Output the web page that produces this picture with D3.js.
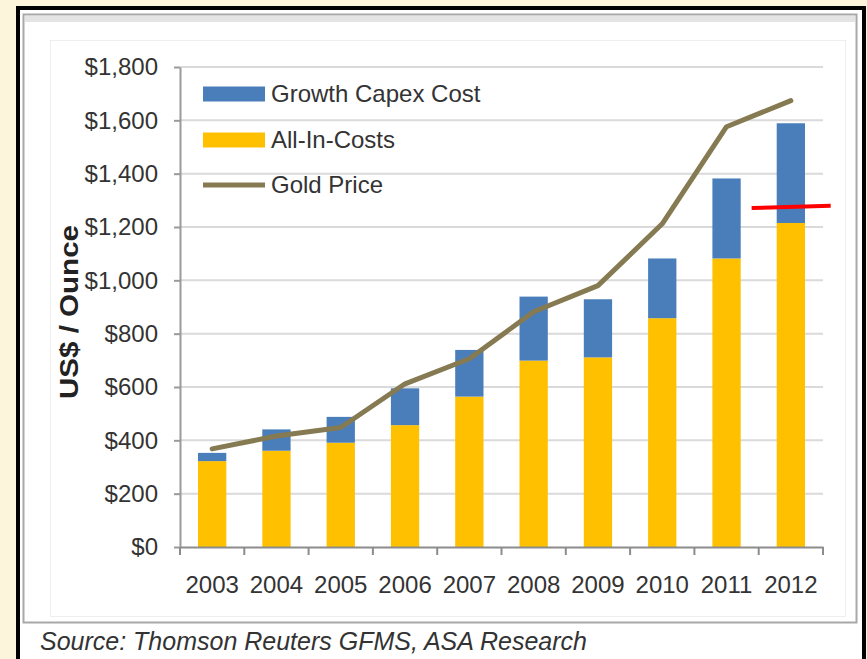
<!DOCTYPE html>
<html>
<head>
<meta charset="utf-8">
<script src="https://cdn.jsdelivr.net/npm/d3@7"></script>
<style>
  html, body { margin: 0; padding: 0; background: #fcf5dc; }
  svg { display: block; }
  text { font-family: "Liberation Sans", Arial, sans-serif; }
</style>
</head>
<body>
<svg id="chart" width="867" height="659"></svg>
<script>
// Gold mining cost structure vs. gold price, US$ per ounce
const years = ["2003", "2004", "2005", "2006", "2007", "2008", "2009", "2010", "2011", "2012"];
const allInCosts = [322, 361, 391, 457, 564, 699, 711, 858, 1082, 1215];
const growthCapex = [31, 80, 97, 138, 175, 240, 218, 224, 300, 374];
const goldPrice = [368, 416, 448, 612, 706, 882, 980, 1212, 1576, 1674];
const yTicks = [0, 200, 400, 600, 800, 1000, 1200, 1400, 1600, 1800];
const seriesNames = ["Growth Capex Cost", "All-In-Costs", "Gold Price"];
// highlighted level drawn across the last two years (position in category units, value)
const markerPoints = [{ pos: 8.39, value: 1271 }, { pos: 9.62, value: 1280 }];

const colors = { capex: "#4a7ebb", allIn: "#ffc000", gold: "#857a52" };

const svg = d3.select("#chart");
const W = 867, H = 659;

// page frame
svg.append("rect").attr("x", 0).attr("y", 0).attr("width", W).attr("height", H).attr("fill", "#fcf5dc");
svg.append("rect").attr("x", 18).attr("y", 8).attr("width", 846).attr("height", 700)
  .attr("fill", "#ffffff").attr("stroke", "#000").attr("stroke-width", 4);
svg.append("rect").attr("x", 23.5).attr("y", 14.5).attr("width", 833).attr("height", 608)
  .attr("fill", "none").attr("stroke", "#a8a8a8").attr("stroke-width", 2);
svg.append("rect").attr("x", 25).attr("y", 16).attr("width", 830).attr("height", 6)
  .attr("fill", "#e4e4e4");
svg.append("rect").attr("x", 50.5).attr("y", 40.5).attr("width", 795).attr("height", 576)
  .attr("fill", "none").attr("stroke", "#eeeeee").attr("stroke-width", 1);

const plot = { left: 180, right: 823, top: 67, bottom: 547 };

const x = d3.scaleBand().domain(years).range([plot.left, plot.right])
  .paddingInner(0.56).paddingOuter(0.28);
const step = x.step();
const xPos = d3.scaleLinear().domain([-0.5, years.length - 0.5]).range([plot.left, plot.right]);
const y = d3.scaleLinear().domain([0, 1800]).range([plot.bottom, plot.top]);

// gridlines
svg.append("g").selectAll("line").data(yTicks.filter(d => d > 0)).join("line")
  .attr("x1", plot.left).attr("x2", plot.right)
  .attr("y1", d => y(d)).attr("y2", d => y(d))
  .attr("stroke", "#dadada").attr("stroke-width", 2);

// stacked bars
const stackData = years.map((yr, i) => ({ year: yr, allIn: allInCosts[i], capex: growthCapex[i] }));
const stacked = d3.stack().keys(["allIn", "capex"])(stackData);
svg.append("g").selectAll("g").data(stacked).join("g")
  .attr("fill", d => colors[d.key])
  .selectAll("rect").data(d => d).join("rect")
  .attr("x", d => x(d.data.year))
  .attr("width", x.bandwidth())
  .attr("y", d => y(d[1]))
  .attr("height", d => y(d[0]) - y(d[1]));

// y axis
const yAxis = svg.append("g").attr("transform", `translate(${plot.left},0)`)
  .call(d3.axisLeft(y).tickValues(yTicks).tickFormat(d3.format("$,")).tickSize(6).tickSizeOuter(0).tickPadding(16));
yAxis.select(".domain").attr("stroke", "#9a9a9a").attr("stroke-width", 2);
yAxis.selectAll(".tick line").attr("stroke", "#9a9a9a").attr("stroke-width", 2);
yAxis.selectAll("text").attr("font-size", 24).attr("fill", "#333");

// x axis
const xAxis = svg.append("g").attr("transform", `translate(0,${plot.bottom})`)
  .call(d3.axisBottom(x).tickSize(0).tickSizeOuter(0).tickPadding(29));
xAxis.select(".domain").attr("stroke", "#8c8c8c").attr("stroke-width", 2);
xAxis.selectAll("text").attr("font-size", 24).attr("fill", "#333");
svg.append("g").selectAll("line").data(d3.range(years.length + 1)).join("line")
  .attr("x1", i => plot.left + i * step).attr("x2", i => plot.left + i * step)
  .attr("y1", plot.bottom).attr("y2", plot.bottom + 8)
  .attr("stroke", "#8c8c8c").attr("stroke-width", 2);

// gold price line
const line = d3.line()
  .x((d, i) => x(years[i]) + x.bandwidth() / 2)
  .y(d => y(d));
svg.append("path").datum(goldPrice)
  .attr("d", line)
  .attr("fill", "none").attr("stroke", colors.gold).attr("stroke-width", 5)
  .attr("stroke-linejoin", "round").attr("stroke-linecap", "round");

// highlighted level
svg.append("line")
  .attr("x1", xPos(markerPoints[0].pos)).attr("y1", y(markerPoints[0].value))
  .attr("x2", xPos(markerPoints[1].pos)).attr("y2", y(markerPoints[1].value))
  .attr("stroke", "#ff0000").attr("stroke-width", 4);

// y axis title
svg.append("text")
  .attr("transform", "translate(78,312) rotate(-90)")
  .attr("text-anchor", "middle")
  .attr("font-size", 25).attr("font-weight", "bold").attr("fill", "#222")
  .attr("textLength", 174).attr("lengthAdjust", "spacingAndGlyphs")
  .text("US$ / Ounce");

// legend
const legend = svg.append("g");
const legendRows = [
  { name: seriesNames[0], color: colors.capex, h: 15, cy: 94 },
  { name: seriesNames[1], color: colors.allIn, h: 15, cy: 140 },
  { name: seriesNames[2], color: colors.gold, h: 5, cy: 185 }
];
legendRows.forEach(r => {
  legend.append("rect").attr("x", 203).attr("y", r.cy - r.h / 2).attr("width", 62).attr("height", r.h)
    .attr("fill", r.color);
  legend.append("text").attr("x", 271).attr("y", r.cy).attr("dy", "0.35em")
    .attr("font-size", 24).attr("fill", "#333").text(r.name);
});

// source note
svg.append("text").attr("x", 40).attr("y", 650)
  .attr("font-size", 25).attr("font-style", "italic").attr("fill", "#333")
  .text("Source: Thomson Reuters GFMS, ASA Research");
</script>
</body>
</html>
